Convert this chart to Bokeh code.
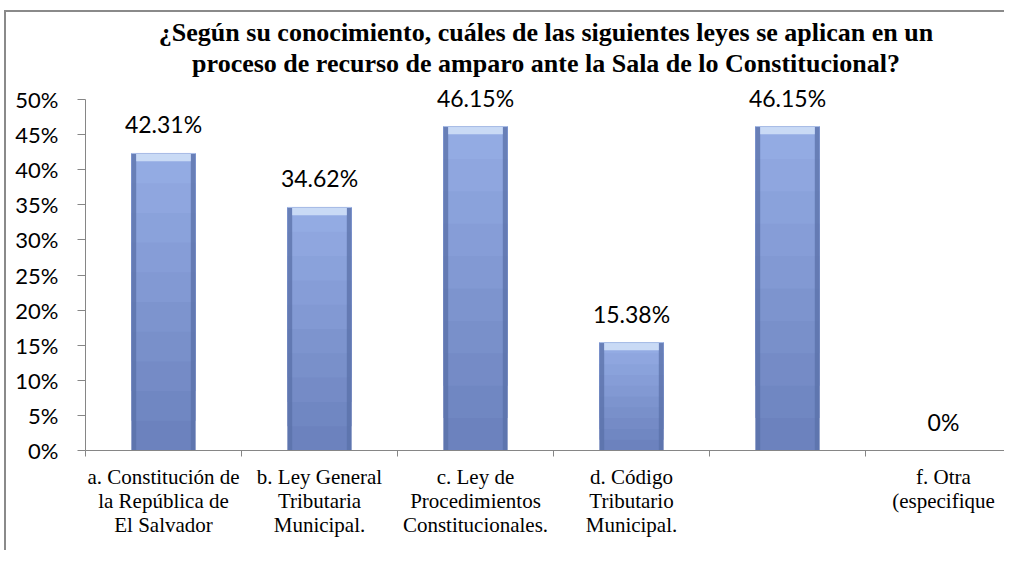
from bokeh.plotting import figure
from bokeh.models import Range1d, FixedTicker, NumeralTickFormatter, ColumnDataSource
from bokeh.core.properties import value
from bokeh.embed import file_html
from bokeh.resources import INLINE

# ---- data ----
categories = [
    "a. Constitución de\nla República de\nEl Salvador",
    "b. Ley General\nTributaria\nMunicipal.",
    "c. Ley de\nProcedimientos\nConstitucionales.",
    "d. Código\nTributario\nMunicipal.",
    "",
    "f. Otra\n(especifique",
]
percentages = [42.31, 34.62, 46.15, 15.38, 46.15, 0.0]
y_ticks = [0, 5, 10, 15, 20, 25, 30, 35, 40, 45, 50]
title_lines = ["¿Según su conocimiento, cuáles de las siguientes leyes se aplican en un",
               "proceso de recurso de amparo ante la Sala de lo Constitucional?"]

n = len(categories)
centers = [i + 0.5 for i in range(n)]
fracs = [v / 100 for v in percentages]
labels = [("0%" if v == 0 else f"{v:.2f}%") for v in percentages]

# layout: frame spans the chart area (title included); axis line bounded to 0-50 %
W, H = 1000, 540
px_per_unit = 702.0
frame_top_gap = 85
x_end = 921 / 156
y_end = 0.5 + frame_top_gap / px_per_unit

p = figure(width=W, height=H, output_backend="svg", toolbar_location=None,
           x_range=Range1d(0, x_end), y_range=Range1d(0, y_end),
           min_border_left=79, min_border_right=0, min_border_top=2, min_border_bottom=102)
p.styles = {"border-top": "2px solid #8a8a8a", "border-left": "2px solid #8a8a8a",
            "margin-left": "4px", "margin-top": "10px"}
p.outline_line_color = None
p.grid.visible = False
p.title.visible = False

# two-line bold serif title, centred over the plot area
tsrc = ColumnDataSource(dict(x=[x_end / 2] * 2, y=[y_end] * 2, t=title_lines, off=[3, 34]))
p.text(x="x", y="y", text="t", source=tsrc, y_offset="off",
       text_align="center", text_baseline="top",
       text_font=value("Liberation Serif"), text_font_style="bold",
       text_font_size="26px", text_color="black")

# bars with a vertical gradient (light top, darker bottom); overlapping layers avoid seams
nzx = [c for c, f in zip(centers, fracs) if f > 0]
nzf = [f for f in fracs if f > 0]
top_col = (0x93, 0xAB, 0xE3)
bot_col = (0x6C, 0x82, 0xBE)
steps = 10
for k in range(steps):
    t = k / (steps - 1)
    col = "#%02x%02x%02x" % tuple(int(round(b + (a - b) * t)) for a, b in zip(top_col, bot_col))
    seg = ColumnDataSource(dict(x=nzx, bottom=[f * k / steps for f in nzf], top=nzf))
    p.vbar(x="x", bottom="bottom", top="top", width=0.41, source=seg,
           fill_color=col, line_color=None)

bars = ColumnDataSource(dict(x=nzx, top=nzf,
                             xl=[x - 0.19 for x in nzx], xr=[x + 0.19 for x in nzx],
                             cap=[f - 0.011 for f in nzf]))
# darker side edges
p.vbar(x="xl", bottom=0, top="top", width=0.03, source=bars,
       fill_color="#5a70a8", fill_alpha=0.75, line_color=None)
p.vbar(x="xr", bottom=0, top="top", width=0.03, source=bars,
       fill_color="#5a70a8", fill_alpha=0.75, line_color=None)
# light bevel cap on top
p.vbar(x="x", bottom="cap", top="top", width=0.35, source=bars,
       fill_color="#c9daf5", line_color=None)
p.vbar(x="x", bottom="top", top="top", width=0.41, source=bars,
       fill_color=None, line_color="#a9bde6", line_width=1)

# data labels
src = ColumnDataSource(dict(x=centers, top=fracs, lab=labels))
p.text(x="x", y="top", text="lab", source=src, text_align="center",
       text_baseline="alphabetic", y_offset=-29,
       text_font=value("Lato"), text_font_size="23px", text_color="black")

# y axis
ya = p.yaxis[0]
ya.bounds = (0, 0.5)
ya.ticker = FixedTicker(ticks=[t / 100 for t in y_ticks])
ya.formatter = NumeralTickFormatter(format="0%")
ya.axis_line_color = "#868686"
ya.major_tick_line_color = "#868686"
ya.major_tick_out = 8
ya.major_tick_in = 0
ya.minor_tick_line_color = None
ya.major_label_standoff = 19
ya.major_label_text_font = "Lato"
ya.major_label_text_font_size = "22px"
ya.major_label_text_color = "black"

# x axis
xa = p.xaxis[0]
xa.ticker = FixedTicker(ticks=centers, minor_ticks=list(range(n + 1)))
xa.major_label_overrides = {c: lab for c, lab in zip(centers, categories)}
xa.axis_line_color = "#868686"
xa.major_tick_line_color = None
xa.major_tick_out = 0
xa.major_tick_in = 0
xa.minor_tick_line_color = "#868686"
xa.minor_tick_out = 6
xa.minor_tick_in = 0
xa.major_label_standoff = 8
xa.major_label_text_font = "Liberation Serif"
xa.major_label_text_font_size = "21px"
xa.major_label_text_color = "black"
xa.major_label_text_line_height = 1.0

open("out.html", "w").write(file_html(p, INLINE))
